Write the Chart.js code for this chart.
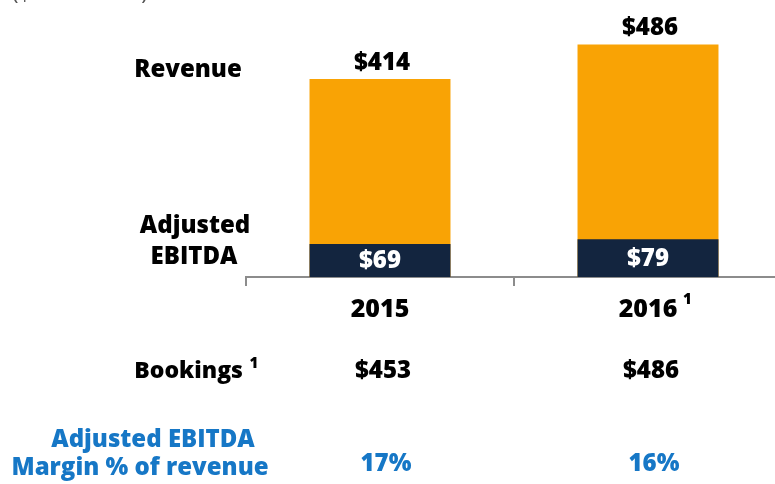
<!DOCTYPE html>
<html>
<head>
<meta charset="utf-8">
<script src="https://cdn.jsdelivr.net/npm/chart.js@4.4.0/dist/chart.umd.min.js"></script>
<style>
    html, body { margin: 0; padding: 0; background: #fff; overflow: hidden; }
    #wrap { position: relative; width: 800px; height: 484px; }
</style>
</head>
<body>
<div id="wrap"><canvas id="chart"></canvas></div>
<script>
const years = ['2015', '2016'];
const yearNotes = ['', '1'];
const revenue = [414, 486];
const ebitda = [69, 79];
const bookings = [453, 486];
const marginPct = [17, 16];

const ORANGE = '#F9A305';
const NAVY = '#13253F';
const BLUE = '#1677C6';
const FONT = '"Open Sans", Lato, sans-serif';

function font(size) {
    return '800 ' + size + 'px ' + FONT;
}

const labelsPlugin = {
    id: 'labels',
    afterDraw(chart) {
        const ctx = chart.ctx;
        const x = chart.scales.x;
        const y = chart.scales.y;
        ctx.save();

        // clipped units note at the very top
        ctx.font = '22px ' + FONT;
        ctx.fillStyle = '#555';
        ctx.textAlign = 'left';
        ctx.textBaseline = 'alphabetic';
        ctx.fillText('($ in millions)', 12, 0);

        ctx.textAlign = 'center';
        ctx.textBaseline = 'middle';

        // left side captions
        ctx.fillStyle = '#000';
        ctx.font = font(24);
        ctx.fillText('Revenue', 188, 70);
        ctx.fillText('Adjusted', 195, 226);
        ctx.fillText('EBITDA', 194, 257);
        ctx.textAlign = 'right';
        ctx.font = font(23);
        ctx.fillText('Bookings', 243, 371);
        ctx.textAlign = 'center';
        ctx.font = font(15);
        ctx.fillText('1', 254, 364);

        ctx.fillStyle = BLUE;
        ctx.font = font(24);
        ctx.fillText('Adjusted EBITDA', 153, 440);
        ctx.fillText('Margin % of revenue', 140, 468);

        years.forEach((yr, i) => {
            const cx = x.getPixelForValue(i);
            // revenue above the bar
            ctx.fillStyle = '#000';
            ctx.font = font(24);
            ctx.fillText('$' + revenue[i], cx + 2, y.getPixelForValue(revenue[i]) - 16);
            // ebitda inside the navy part
            ctx.fillStyle = '#fff';
            ctx.fillText('$' + ebitda[i], cx, (y.getPixelForValue(ebitda[i]) + y.getPixelForValue(0)) / 2 + 1);
            // year
            ctx.fillStyle = '#000';
            ctx.font = font(25);
            ctx.fillText(yr, cx, 310);
            if (yearNotes[i]) {
                const w = ctx.measureText(yr).width;
                ctx.font = font(15);
                ctx.fillText(yearNotes[i], cx + w / 2 + 10, 300);
            }
            // bookings
            ctx.font = font(24);
            ctx.fillText('$' + bookings[i], cx + 3, 371);
            // margin
            ctx.fillStyle = BLUE;
            ctx.fillText(marginPct[i] + '%', cx + 6, 464);
        });
        ctx.restore();
    }
};

new Chart(document.getElementById('chart'), {
    type: 'bar',
    data: {
        labels: years,
        datasets: [
            {
                label: 'Adjusted EBITDA',
                data: ebitda,
                backgroundColor: NAVY,
                order: 0,
                barPercentage: 0.526,
                categoryPercentage: 1
            },
            {
                label: 'Revenue',
                data: revenue,
                backgroundColor: ORANGE,
                order: 1,
                barPercentage: 0.526,
                categoryPercentage: 1
            }
        ]
    },
    options: {
        responsive: true,
        maintainAspectRatio: false,
        animation: false,
        datasets: { bar: { grouped: false } },
        layout: { padding: { left: 246, right: 18, top: 10, bottom: 0 } },
        plugins: {
            legend: { display: false },
            tooltip: { enabled: false }
        },
        scales: {
            x: {
                offset: true,
                ticks: { display: false },
                grid: {
                    offset: true,
                    drawOnChartArea: false,
                    drawTicks: true,
                    tickLength: 9,
                    color: '#8C8C8C',
                    lineWidth: 2
                },
                border: { display: true, color: '#8C8C8C', width: 2 },
                afterFit(scale) { scale.height = 207; }
            },
            y: {
                display: false,
                min: 0,
                max: 558
            }
        }
    },
    plugins: [labelsPlugin]
});
</script>
</body>
</html>
